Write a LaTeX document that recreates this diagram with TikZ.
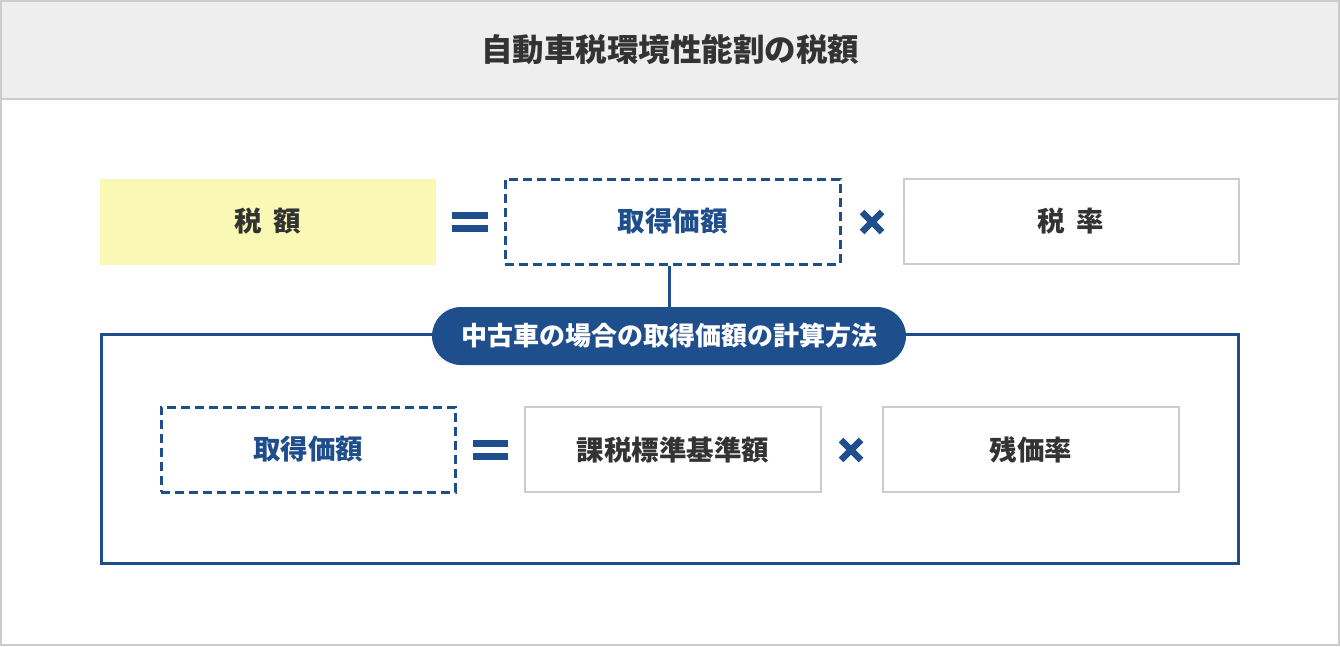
\documentclass[tikz,border=0pt]{standalone}
\usepackage{fontspec}
\setmainfont{Noto Sans CJK JP}
\definecolor{navy}{HTML}{1F4E8C}
\definecolor{headbg}{HTML}{EEEEEE}
\definecolor{lgray}{HTML}{CCCCCC}
\definecolor{ylw}{HTML}{F9F8B5}
\definecolor{txt}{HTML}{333333}
\tikzset{
  cell/.style={minimum width=336pt, minimum height=86pt, inner sep=0pt, text=txt,
    font=\bfseries\fontsize{27.5}{27.5}\selectfont},
  grayframe/.style={cell, draw=lgray, line width=2pt},
  dashframe/.style={cell, draw=navy, line width=3pt, dash pattern=on 9pt off 5pt, text=navy},
  opbar/.style={fill=navy},
  times/.style={draw=navy, line width=6.5pt},
}
\begin{document}
\begin{tikzpicture}[x=1pt,y=-1pt]
\useasboundingbox (0,0) rectangle (1340,646);
\fill[headbg] (0,0) rectangle (1340,99);
\draw[lgray, line width=1.5pt] (0,99) -- (1340,99);
\draw[lgray, line width=2pt] (1,1) rectangle (1339,645);
\node[text=txt, font=\bfseries\fontsize{31.5}{31.5}\selectfont] (title) at (670,50) {自動車税環境性能割の税額};

% row 1
\node[cell, fill=ylw] (tax) at (268,221.5) {税\hspace{0.42em}額};
\fill[opbar] (452,212) rectangle (488,218.5);
\fill[opbar] (452,225) rectangle (488,231.5);
\node[dashframe, minimum width=335pt, minimum height=85pt] (acq) at (672.5,221.5) {取得価額};
\draw[times] (862,212) -- (882,232) (882,212) -- (862,232);
\node[grayframe, minimum width=335pt, minimum height=85pt] (rate) at (1071,221.5) {税\hspace{0.42em}率};

% frame and pill
\node[inner sep=0pt, minimum width=1136pt, minimum height=228pt] (frame) at (670,449) {};
\draw[navy, line width=3pt] (frame.north west) rectangle (frame.south east);
\node[fill=navy, text=white, rounded corners=29pt, minimum width=474pt, minimum height=58pt,
  inner sep=0pt, font=\bfseries\fontsize{26}{26}\selectfont] (pill) at (669,336) {中古車の場合の取得価額の計算方法};
\draw[navy, line width=3pt] (acq.south -| pill.north) -- (pill.north);

% row 2
\node[dashframe, minimum width=294pt, minimum height=85pt] (acq2) at (308,449.5) {取得価額};
\fill[opbar] (473,440) rectangle (508,446.5);
\fill[opbar] (473,453) rectangle (508,459.5);
\node[grayframe, minimum width=296pt, minimum height=85pt] (base) at (673,449.5) {課税標準基準額};
\draw[times] (841,440) -- (861,460) (861,440) -- (841,460);
\node[grayframe, minimum width=296pt, minimum height=85pt] (resid) at (1031,449.5) {残価率};
\end{tikzpicture}
\end{document}
